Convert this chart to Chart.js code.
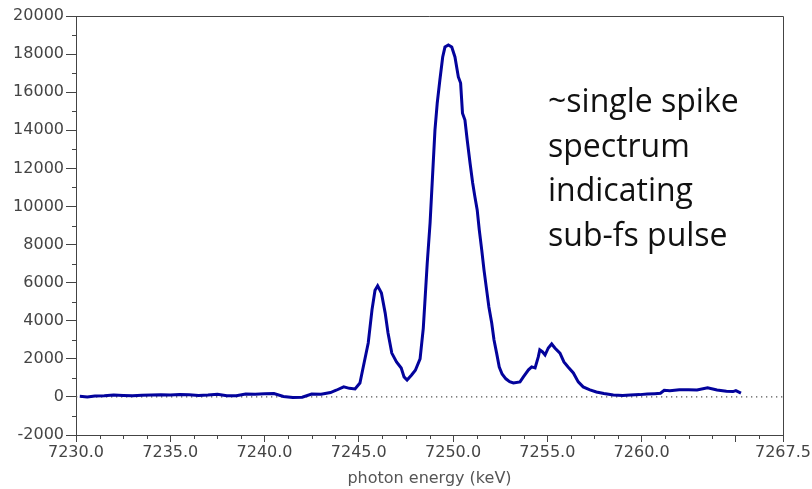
<!DOCTYPE html>
<html>
<head>
<meta charset="utf-8">
<script src="https://cdn.jsdelivr.net/npm/chart.js@4/dist/chart.umd.min.js"></script>
<style>
  html, body { margin: 0; padding: 0; background: #fff; }
</style>
</head>
<body>
<canvas id="spectrum" width="812" height="489"></canvas>
<script>
// photon energy (keV)
var energy = [
  7230.2, 7230.6, 7231.0, 7231.5, 7232.0, 7232.5, 7233.0, 7233.5, 7234.0, 7234.5,
  7235.0, 7235.5, 7236.0, 7236.5, 7237.0, 7237.5, 7238.0, 7238.5, 7239.0, 7239.5,
  7240.0, 7240.5, 7241.0, 7241.5, 7242.0, 7242.5, 7243.0, 7243.5, 7243.8, 7244.2,
  7244.5, 7244.8, 7245.06, 7245.2, 7245.5, 7245.7, 7245.86, 7246.0, 7246.2, 7246.4,
  7246.55, 7246.75, 7247.0, 7247.25, 7247.4, 7247.56, 7247.8, 7248.0, 7248.25, 7248.42,
  7248.5, 7248.63, 7248.78, 7248.92, 7249.04, 7249.16, 7249.3, 7249.45, 7249.57, 7249.75,
  7249.93, 7250.1, 7250.28, 7250.4, 7250.5, 7250.63, 7250.75, 7250.9, 7251.04, 7251.16,
  7251.28, 7251.39, 7251.52, 7251.64, 7251.78, 7251.9, 7252.05, 7252.17, 7252.31, 7252.45,
  7252.6, 7252.8, 7253.0, 7253.2, 7253.55, 7253.73, 7254.0, 7254.17, 7254.35, 7254.52,
  7254.6, 7254.75, 7254.88, 7255.05, 7255.23, 7255.4, 7255.67, 7255.88, 7256.1, 7256.38,
  7256.64, 7256.9, 7257.26, 7257.6, 7258.0, 7258.5, 7259.0, 7259.4, 7259.9, 7260.3,
  7260.7, 7261.0, 7261.2, 7261.5, 7262.0, 7262.5, 7262.94, 7263.5, 7264.0, 7264.5,
  7264.85, 7265.0, 7265.27
];

// counts
var counts = [
  30, 0, 50, 60, 100, 80, 60, 90, 100, 110,
  100, 130, 110, 80, 100, 140, 60, 60, 150, 140,
  160, 180, 20, -30, -20, 150, 140, 230, 350, 530,
  450, 420, 730, 1400, 2830, 4570, 5600, 5830, 5460, 4400,
  3360, 2300, 1840, 1520, 1050, 890, 1150, 1400, 2000, 3600,
  4900, 7030, 9130, 11760, 14020, 15430, 16640, 17850, 18370, 18480,
  18370, 17850, 16800, 16480, 14900, 14540, 13490, 12280, 11230, 10500,
  9820, 8770, 7720, 6670, 5620, 4720, 3880, 3000, 2300, 1570,
  1200, 950, 800, 730, 790, 1050, 1420, 1575, 1520, 2100,
  2470, 2360, 2200, 2570, 2780, 2570, 2300, 1840, 1575, 1260,
  790, 525, 370, 260, 180, 100, 80, 100, 120, 150,
  170, 190, 350, 330, 370, 380, 360, 480, 360, 300,
  280, 330, 200
];

var xTicks = [7230, 7235, 7240, 7245, 7250, 7255, 7260, 7265, 7267.5];
var noteLines = ['~single spike', 'spectrum', 'indicating', 'sub-fs pulse'];

var axisColor = '#444';
var labelFont = { family: 'DejaVu Sans', size: 16 };

// frame, minor ticks and the text note
var framePlugin = {
  id: 'frame',
  afterDraw: function(chart) {
    var ctx = chart.ctx;
    var a = chart.chartArea;
    var xs = chart.scales.x;
    var ys = chart.scales.y;
    ctx.save();
    ctx.strokeStyle = axisColor;
    ctx.lineWidth = 1;
    ctx.beginPath();
    ctx.moveTo(a.left, a.top + 0.5);
    ctx.lineTo(a.right + 0.5, a.top + 0.5);
    ctx.lineTo(a.right + 0.5, a.bottom);
    // minor y ticks every 1000
    for (var v = -1000; v < 20000; v += 2000) {
      var py = Math.round(ys.getPixelForValue(v)) + 0.5;
      ctx.moveTo(a.left - 4, py);
      ctx.lineTo(a.left, py);
    }
    // minor x ticks every 1.25
    for (var e = 7230; e <= 7267.5; e += 1.25) {
      if (Math.abs(e / 5 - Math.round(e / 5)) < 1e-6) continue;
      var px = Math.round(xs.getPixelForValue(e)) + 0.5;
      ctx.moveTo(px, a.bottom);
      ctx.lineTo(px, a.bottom + 4);
    }
    ctx.stroke();

    ctx.fillStyle = '#111';
    ctx.font = '32px "Open Sans"';
    ctx.textBaseline = 'alphabetic';
    ctx.textAlign = 'left';
    noteLines.forEach(function(t, i) {
      ctx.fillText(t, 548, 112 + i * 44.5);
    });
    ctx.restore();
  }
};

var points = energy.map(function(e, i) {
  return { x: e, y: counts[i] };
});

new Chart(document.getElementById('spectrum').getContext('2d'), {
  type: 'line',
  data: {
    datasets: [{
      data: points,
      borderColor: '#03039c',
      borderWidth: 3,
      pointRadius: 0,
      tension: 0,
      order: 1
    }, {
      data: [{ x: 7230, y: 0 }, { x: 7267.5, y: 0 }],
      borderColor: '#555',
      borderWidth: 1.3,
      borderDash: [1.3, 3.7],
      pointRadius: 0,
      order: 2
    }]
  },
  options: {
    responsive: false,
    animation: false,
    layout: { padding: { left: 0, right: 29, top: 16, bottom: 0 } },
    plugins: {
      legend: { display: false },
      tooltip: { enabled: false }
    },
    scales: {
      x: {
        type: 'linear',
        min: 7230,
        max: 7267.5,
        afterBuildTicks: function(scale) {
          scale.ticks = xTicks.map(function(v) { return { value: v }; });
        },
        afterFit: function(scale) { scale.height = 54; },
        ticks: {
          autoSkip: false,
          maxRotation: 0,
          padding: 1,
          color: '#444',
          font: labelFont,
          callback: function(v) { return v === 7265 ? '' : v.toFixed(1); }
        },
        grid: { drawOnChartArea: false, tickLength: 7, color: axisColor },
        border: { color: axisColor },
        title: {
          display: true,
          text: 'photon energy (keV)',
          color: '#555',
          font: labelFont,
          padding: { top: 0, bottom: 1 }
        }
      },
      y: {
        min: -2000,
        max: 20000,
        afterFit: function(scale) { scale.width = 76; },
        ticks: {
          stepSize: 2000,
          padding: 2,
          color: '#444',
          font: labelFont,
          callback: function(v) { return String(v); }
        },
        grid: { drawOnChartArea: false, tickLength: 10, color: axisColor },
        border: { color: axisColor }
      }
    }
  },
  plugins: [framePlugin]
});
</script>
</body>
</html>
